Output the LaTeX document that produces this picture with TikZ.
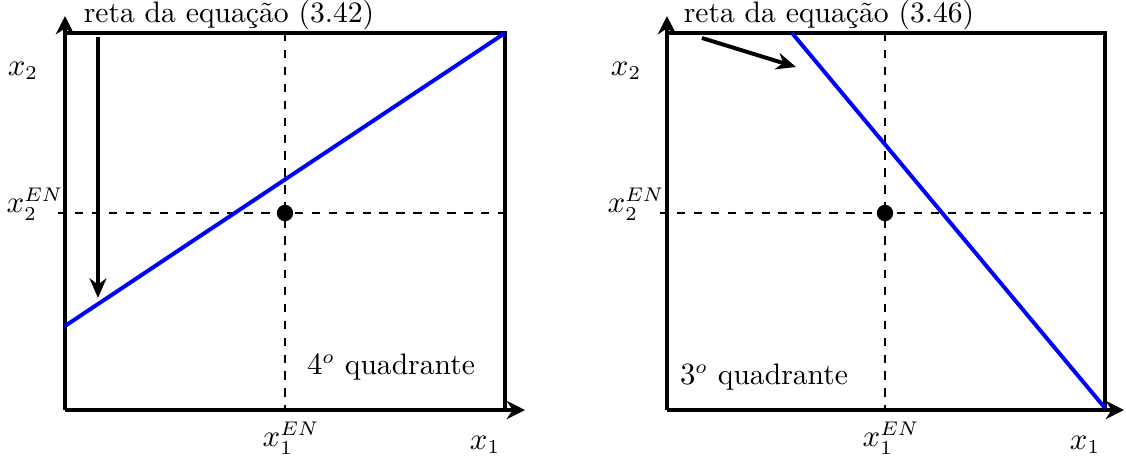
\documentclass[tikz,border=0pt]{standalone}
\usetikzlibrary{arrows.meta}
\begin{document}
\begin{tikzpicture}[x=0.3546pt,y=-0.3546pt,
  frame/.style={line width=1.4pt},
  axis/.style={line width=1.4pt,-{Stealth[length=6.5pt,width=6.5pt]}},
  guide/.style={dashed,line width=0.5pt},
  bline/.style={blue,line width=1.4pt},
  pointer/.style={line width=1.4pt,-{Stealth[length=7pt,width=6pt]}},
  lbl/.style={inner sep=0pt,font=\fontsize{10.5pt}{12.5pt}\selectfont}]
\useasboundingbox (0,0) rectangle (1126,466);
% ---------- left panel ----------
\coordinate (LO) at (65,410);
\coordinate (LTR) at (505,33);
\coordinate (LTL) at (65,33);
\coordinate (LBR) at (505,410);
\coordinate (LYA) at (65,16);
\coordinate (LXA) at (525,410);
\coordinate (LVt) at (285,33);
\coordinate (LVb) at (285,410);
\coordinate (LHl) at (58,213);
\coordinate (LHr) at (505,213);
\coordinate (LBs) at (65,326);
\coordinate (LBe) at (505,33);
\coordinate (LAs) at (98,37);
\coordinate (LAe) at (98,298);
\draw[guide] (LVt) -- (LVb);
\draw[guide] (LHl) -- (LHr);
\draw[frame] (LTL) -- (LTR) -- (LBR);
\draw[axis] (LO) -- (LYA);
\draw[axis] (LO) -- (LXA);
\draw[bline] (LBs) -- (LBe);
\fill (285,213) circle (2.9pt) node (Ldot) {};
\draw[pointer] (LAs) -- (LAe);
\node[lbl] (Ltitle) at (229,15) {reta da equação (3.42)};
\node[lbl] (Lx2) at (23,71) {$x_2$};
\node[lbl] (Lx2en) at (35,204) {$x_2^{EN}$};
\node[lbl] (Lx1en) at (291,438) {$x_1^{EN}$};
\node[lbl] (Lx1) at (485,445) {$x_1$};
\node[lbl] (Lq) at (391,367) {$4^o$ quadrante};
% ---------- right panel ----------
\coordinate (RO) at (667,410);
\coordinate (RTR) at (1105,33);
\coordinate (RTL) at (667,33);
\coordinate (RBR) at (1105,410);
\coordinate (RYA) at (667,16);
\coordinate (RXA) at (1124,410);
\coordinate (RVt) at (885,33);
\coordinate (RVb) at (885,410);
\coordinate (RHl) at (660,213);
\coordinate (RHr) at (1105,213);
\coordinate (RBs) at (792,33);
\coordinate (RBe) at (1105,408);
\coordinate (RAs) at (702,38);
\coordinate (RAe) at (796,67);
\draw[guide] (RVt) -- (RVb);
\draw[guide] (RHl) -- (RHr);
\draw[frame] (RTL) -- (RTR) -- (RBR);
\draw[axis] (RO) -- (RYA);
\draw[axis] (RO) -- (RXA);
\draw[bline] (RBs) -- (RBe);
\fill (885,213) circle (2.9pt) node (Rdot) {};
\draw[pointer] (RAs) -- (RAe);
\node[lbl] (Rtitle) at (829,15) {reta da equação (3.46)};
\node[lbl] (Rx2) at (626,71) {$x_2$};
\node[lbl] (Rx2en) at (636,204) {$x_2^{EN}$};
\node[lbl] (Rx1en) at (891,438) {$x_1^{EN}$};
\node[lbl] (Rx1) at (1085,445) {$x_1$};
\node[lbl] (Rq) at (764,377) {$3^o$ quadrante};
\end{tikzpicture}
\end{document}
